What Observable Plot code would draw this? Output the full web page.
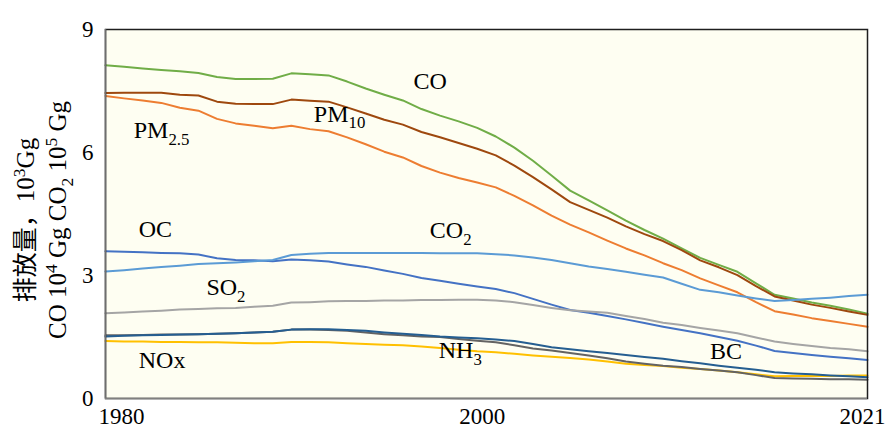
<!DOCTYPE html>
<html>
<head>
<meta charset="utf-8">
<script src="https://cdn.jsdelivr.net/npm/d3@7"></script>
<script src="https://cdn.jsdelivr.net/npm/@observablehq/plot@0.6"></script>
<style>
  body { margin: 0; background: #ffffff; }
</style>
</head>
<body>
<div id="chart"></div>
<script>
// Emission series, 1980–2021 (CO in 10^4 Gg, CO2 in 10^5 Gg, others in 10^3 Gg)
const years = [1980,1981,1982,1983,1984,1985,1986,1987,1988,1989,
               1990,1991,1992,1993,1994,1995,1996,1997,1998,1999,
               2000,2001,2002,2003,2004,2005,2006,2007,2008,2009,
               2010,2011,2012,2013,2014,2015,2016,2017,2018,2019,
               2020,2021];

const co   = [8.13,8.09,8.05,8.01,7.98,7.94,7.84,7.79,7.79,7.80,
              7.93,7.91,7.88,7.73,7.56,7.41,7.27,7.06,6.90,6.76,
              6.60,6.39,6.12,5.80,5.44,5.07,4.83,4.59,4.34,4.11,
              3.90,3.66,3.43,3.26,3.09,2.81,2.53,2.44,2.34,2.26,
              2.17,2.07];
const pm10 = [7.45,7.46,7.46,7.46,7.41,7.39,7.24,7.19,7.18,7.18,
              7.29,7.26,7.24,7.10,6.95,6.80,6.68,6.50,6.37,6.23,
              6.09,5.93,5.68,5.40,5.10,4.79,4.60,4.41,4.20,4.01,
              3.84,3.62,3.37,3.20,3.01,2.74,2.49,2.39,2.29,2.21,
              2.12,2.04];
const pm25 = [7.38,7.32,7.27,7.21,7.09,7.02,6.82,6.71,6.65,6.59,
              6.65,6.57,6.52,6.37,6.20,6.02,5.88,5.67,5.51,5.38,
              5.27,5.15,4.94,4.71,4.46,4.24,4.05,3.85,3.66,3.49,
              3.30,3.13,2.93,2.76,2.59,2.35,2.13,2.05,1.96,1.89,
              1.82,1.75];
const oc   = [3.59,3.58,3.57,3.55,3.54,3.51,3.42,3.38,3.37,3.35,
              3.39,3.37,3.34,3.27,3.21,3.12,3.04,2.94,2.87,2.80,
              2.73,2.67,2.57,2.43,2.29,2.16,2.09,2.01,1.93,1.84,
              1.75,1.67,1.59,1.50,1.41,1.29,1.16,1.11,1.06,1.02,
              0.98,0.94];
const co2  = [3.10,3.13,3.17,3.21,3.24,3.28,3.30,3.32,3.35,3.38,
              3.50,3.53,3.55,3.55,3.55,3.55,3.55,3.55,3.54,3.54,
              3.54,3.52,3.49,3.44,3.38,3.30,3.22,3.16,3.09,3.02,
              2.95,2.80,2.65,2.59,2.51,2.44,2.38,2.40,2.43,2.46,
              2.50,2.53];
const so2  = [2.08,2.10,2.12,2.14,2.17,2.18,2.20,2.21,2.24,2.26,
              2.34,2.35,2.37,2.38,2.38,2.39,2.39,2.40,2.40,2.41,
              2.41,2.39,2.35,2.28,2.21,2.15,2.12,2.09,2.01,1.94,
              1.85,1.79,1.72,1.66,1.59,1.49,1.39,1.33,1.28,1.23,
              1.20,1.15];
const nox  = [1.40,1.39,1.39,1.38,1.38,1.37,1.37,1.36,1.35,1.35,
              1.38,1.38,1.37,1.35,1.33,1.31,1.30,1.27,1.23,1.19,
              1.15,1.13,1.09,1.05,1.02,0.99,0.95,0.90,0.85,0.82,
              0.79,0.75,0.72,0.68,0.64,0.59,0.54,0.55,0.55,0.55,
              0.56,0.56];
const nh3  = [1.54,1.54,1.55,1.56,1.56,1.57,1.58,1.59,1.61,1.63,
              1.68,1.68,1.67,1.65,1.61,1.57,1.54,1.51,1.50,1.45,
              1.41,1.37,1.30,1.22,1.17,1.11,1.05,0.98,0.90,0.85,
              0.80,0.77,0.72,0.68,0.64,0.57,0.50,0.49,0.48,0.47,
              0.47,0.46];
const bc   = [1.51,1.53,1.54,1.55,1.56,1.57,1.58,1.59,1.61,1.63,
              1.68,1.69,1.69,1.67,1.65,1.61,1.58,1.55,1.51,1.49,
              1.47,1.44,1.40,1.33,1.25,1.20,1.15,1.11,1.06,1.01,
              0.97,0.91,0.86,0.80,0.75,0.70,0.64,0.61,0.59,0.56,
              0.54,0.52];

const seriesNames  = ["CO", "PM10", "PM2.5", "OC", "CO2", "SO2", "NOx", "NH3", "BC"];
const seriesValues = [co, pm10, pm25, oc, co2, so2, nox, nh3, bc];
const seriesColors = ["#70ad47", "#9e480e", "#ed7d31", "#4472c4", "#5b9bd5",
                      "#a5a5a5", "#ffc000", "#636363", "#255e91"];

// In-chart series labels ("_{..}" marks a subscript)
const labelText  = ["CO", "PM_{10}", "PM_{2.5}", "OC", "CO_{2}", "SO_{2}", "NH_{3}", "NOx", "BC"];
const labelYear  = [1996.57, 1991.21, 1981.52, 1981.79, 1997.45, 1985.43, 1997.93, 1981.79, 2012.52];
const labelValue = [7.73, 6.94, 6.54, 4.12, 4.10, 2.71, 1.17, 0.93, 1.16];

const yTicks = [0, 3, 6, 9];
const xTicks = [1980, 2000, 2021];
const xTickShift = [16, 5, -5];

// Two-line y-axis title ("^{..}" superscript, "_{..}" subscript)
const yTitle = ["排放量，10^{3}Gg", "CO 10^{4} Gg CO_{2} 10^{5} Gg"];

const rows = seriesNames.flatMap((name, i) =>
  years.map((year, j) => ({series: name, year, value: seriesValues[i][j]})));
const labels = labelText.map((text, i) => ({text, year: labelYear[i], value: labelValue[i]}));

const serif = '"Liberation Serif", "Times New Roman", "Noto Sans CJK SC", serif';

const chart = Plot.plot({
  width: 888,
  height: 430,
  marginLeft: 105,
  marginRight: 21,
  marginTop: 29,
  marginBottom: 32,
  style: {fontFamily: serif, fontSize: "23px", background: "#ffffff", color: "#000"},
  x: {domain: [1980, 2021]},
  y: {domain: [0, 9]},
  color: {domain: seriesNames, range: seriesColors},
  marks: [
    Plot.frame({fill: "#fefef2"}),
    Plot.line(rows, {x: "year", y: "value", z: "series", stroke: "series", strokeWidth: 2}),
    Plot.frame({stroke: "#1e1e1e", strokeWidth: 1.5}),
    Plot.ruleX([1980], {stroke: "#6e6e6e", strokeWidth: 1.5}),
    Plot.ruleY([0], {stroke: "#808080", strokeWidth: 1.5}),
    Plot.axisY({ticks: yTicks, tickSize: 0, tickPadding: 12, label: null, fontSize: 23}),
    ...xTicks.map((t, i) => Plot.axisX({ticks: [t], tickSize: 0, tickPadding: 9,
      tickFormat: d => String(d), label: null, dx: xTickShift[i], fontSize: 23})),
    Plot.text(labels, {x: "year", y: "value", text: "text", textAnchor: "start", fontSize: 24, fill: "#000"}),
    Plot.text([yTitle[0]], {frameAnchor: "left", textAnchor: "middle", rotate: -90, dx: -80, dy: 6, fontSize: 25, fill: "#000"}),
    Plot.text([yTitle[1]], {frameAnchor: "left", textAnchor: "middle", rotate: -90, dx: -48, dy: 6, fontSize: 25, fill: "#000"})
  ]
});

document.getElementById("chart").appendChild(chart);

// Turn "_{..}" / "^{..}" markup into sub/superscript tspans
const SVGNS = "http://www.w3.org/2000/svg";
d3.select(chart).selectAll("text").each(function () {
  const raw = this.textContent;
  if (!/[_^]\{/.test(raw)) return;
  const size = parseFloat(getComputedStyle(this).fontSize) || 24;
  const parts = raw.split(/([_^]\{[^}]*\})/).filter(s => s.length);
  this.textContent = "";
  let shift = 0;
  for (const part of parts) {
    const m = part.match(/^([_^])\{([^}]*)\}$/);
    const ts = document.createElementNS(SVGNS, "tspan");
    if (m) {
      const target = m[1] === "_" ? size * 0.28 : -size * 0.36;
      ts.setAttribute("dy", target - shift);
      ts.setAttribute("font-size", size * 0.7);
      ts.textContent = m[2];
      shift = target;
    } else {
      ts.setAttribute("dy", -shift);
      ts.textContent = part;
      shift = 0;
    }
    this.appendChild(ts);
  }
});
</script>
</body>
</html>
